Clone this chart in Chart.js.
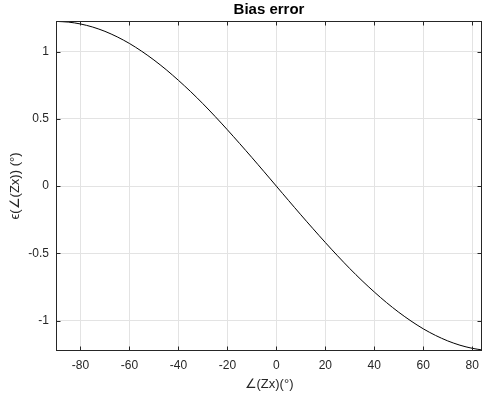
<!DOCTYPE html>
<html>
<head>
<meta charset="utf-8">
<script src="https://cdn.jsdelivr.net/npm/chart.js@4"></script>
<style>
  html, body { margin: 0; padding: 0; background: #fff; }
  #wrap { width: 482px; height: 398px; }
</style>
</head>
<body>
<div id="wrap"><canvas id="c" width="482" height="398"></canvas></div>
<script>
// angle of Zx (degrees) and bias error
const angles = [-90, -85, -80, -75, -70, -65, -60, -55, -50, -45, -40, -35, -30, -25, -20, -15, -10, -5,
  0, 5, 10, 15, 20, 25, 30, 35, 40, 45, 50, 55, 60, 65, 70, 75, 80, 84];
const biasError = [1.225, 1.22, 1.206, 1.183, 1.151, 1.11, 1.061, 1.003, 0.938, 0.866, 0.787, 0.703,
  0.613, 0.518, 0.419, 0.317, 0.213, 0.107, 0, -0.107, -0.213, -0.317, -0.419, -0.518, -0.613,
  -0.703, -0.787, -0.866, -0.938, -1.003, -1.061, -1.11, -1.151, -1.183, -1.206, -1.218];
const xTicks = [-80, -60, -40, -20, 0, 20, 40, 60, 80];
const yTicks = [-1, -0.5, 0, 0.5, 1];
const xRange = [-90, 84];
const yRange = [-1.226, 1.228];

const AXIS = "#262626";
const FONT = "'Liberation Sans', Arial, Helvetica, sans-serif";

// MATLAB-like box with inward ticks + title over the plot area
const boxPlugin = {
  id: "box",
  afterDraw(chart) {
    const { ctx, chartArea: a, scales } = chart;
    const L = Math.round(a.left) + 0.5, R = Math.round(a.right) - 0.5;
    const T = Math.round(a.top) + 0.5, B = Math.round(a.bottom) - 0.5;
    ctx.save();
    ctx.strokeStyle = AXIS;
    ctx.lineWidth = 1;
    ctx.strokeRect(L, T, R - L, B - T);
    ctx.beginPath();
    const len = 4;
    xTicks.forEach((v) => {
      const px = Math.round(scales.x.getPixelForValue(v)) + 0.5;
      ctx.moveTo(px, B); ctx.lineTo(px, B - len);
      ctx.moveTo(px, T); ctx.lineTo(px, T + len);
    });
    yTicks.forEach((v) => {
      const py = Math.round(scales.y.getPixelForValue(v)) + 0.5;
      ctx.moveTo(L, py); ctx.lineTo(L + len, py);
      ctx.moveTo(R, py); ctx.lineTo(R - len, py);
    });
    ctx.stroke();
    ctx.fillStyle = "#000";
    ctx.font = "bold 15px " + FONT;
    ctx.textAlign = "center";
    ctx.textBaseline = "middle";
    ctx.fillText("Bias error", (a.left + a.right) / 2, 10);
    ctx.restore();
  },
};

new Chart(document.getElementById("c"), {
  type: "line",
  data: {
    datasets: [{
      data: angles.map((a, i) => ({ x: a, y: biasError[i] })),
      borderColor: "#000",
      borderWidth: 1,
      pointRadius: 0,
      tension: 0.3,
      fill: false,
    }],
  },
  options: {
    responsive: false,
    animation: false,
    layout: { padding: { top: 21, right: 0, left: 0, bottom: 0 } },
    plugins: { legend: { display: false }, tooltip: { enabled: false }, title: { display: false } },
    scales: {
      x: {
        type: "linear",
        min: xRange[0],
        max: xRange[1],
        afterBuildTicks(s) { s.ticks = xTicks.map((v) => ({ value: v })); },
        afterFit(s) { s.height = 47; s.paddingLeft = 0; s.paddingRight = 0; },
        grid: { color: "#e3e3e3", drawTicks: false },
        border: { display: false },
        ticks: { color: AXIS, font: { family: FONT, size: 12 }, padding: 7, maxRotation: 0 },
        title: {
          display: true, text: "∠(Zx)(°)", color: AXIS,
          font: { family: FONT, size: 13 }, padding: { top: 0, bottom: 6 },
        },
      },
      y: {
        type: "linear",
        min: yRange[0],
        max: yRange[1],
        afterBuildTicks(s) { s.ticks = yTicks.map((v) => ({ value: v })); },
        afterFit(s) { s.width = 56; s.paddingTop = 0; s.paddingBottom = 0; },
        grid: { color: "#e3e3e3", drawTicks: false },
        border: { display: false },
        ticks: { color: AXIS, font: { family: FONT, size: 12 }, padding: 7, callback: (v) => String(v) },
        title: {
          display: true, text: "ϵ(∠(Zx)) (°)", color: AXIS,
          font: { family: FONT, size: 13 }, padding: { top: 8, bottom: 0 },
        },
      },
    },
  },
  plugins: [boxPlugin],
});
</script>
</body>
</html>
